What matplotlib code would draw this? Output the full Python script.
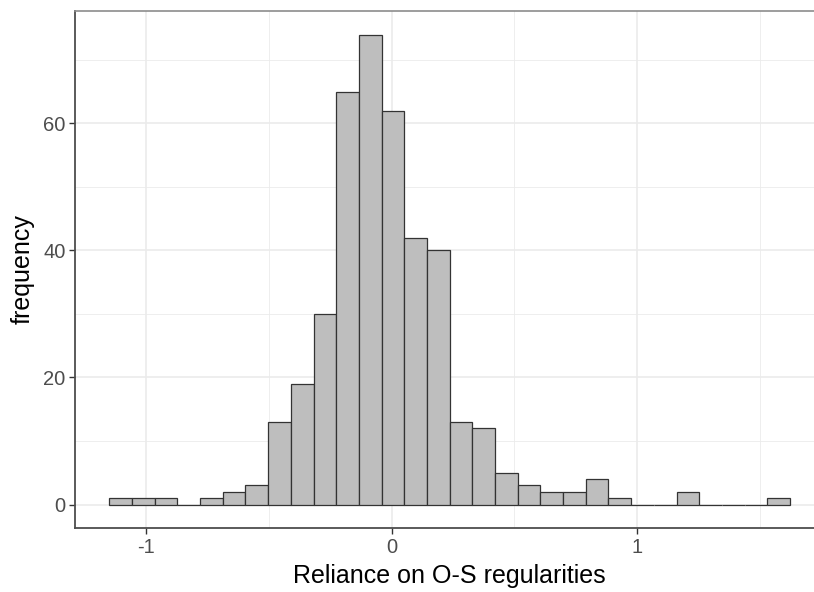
import numpy as np
import matplotlib
matplotlib.use("Agg")
import matplotlib.pyplot as plt
from matplotlib.ticker import FixedLocator

plt.rcParams['font.family'] = ['Liberation Sans', 'DejaVu Sans']

# histogram: 30 bins
bin_start = -1.150
bin_width = 0.0924
counts = [1, 1, 1, 0, 1, 2, 3, 13, 19, 30, 65, 74, 62, 42, 40,
          13, 12, 5, 3, 2, 2, 4, 1, 0, 0, 2, 0, 0, 0, 1]
x_ticks = [-1, 0, 1]
x_tick_labels = ['-1', '0', '1']
y_ticks = [0, 20, 40, 60]

edges = bin_start + bin_width * np.arange(len(counts) + 1)
lefts = edges[:-1]

fig = plt.figure(figsize=(8.14, 5.92), dpi=100)
ax = fig.add_axes([75.3 / 814, 1 - 528 / 592, (824 - 75.3) / 814, (528 - 11) / 592])

ax.bar(lefts, counts, width=bin_width, align='edge', color='#BEBEBE',
       edgecolor='#333333', linewidth=0.9, zorder=3)

span = edges[-1] - edges[0]
ax.set_xlim(edges[0] - 0.05 * span, edges[-1] + 0.05 * span)
ymax = max(counts)
ax.set_ylim(-0.05 * ymax, ymax * 1.05)

ax.xaxis.set_major_locator(FixedLocator(x_ticks))
ax.set_xticklabels(x_tick_labels)
ax.xaxis.set_minor_locator(FixedLocator([-0.5, 0.5, 1.5]))
ax.yaxis.set_major_locator(FixedLocator(y_ticks))
ax.yaxis.set_minor_locator(FixedLocator([10, 30, 50, 70]))

ax.grid(which='major', color='#EBEBEB', linewidth=1.2, zorder=0)
ax.grid(which='minor', color='#EBEBEB', linewidth=0.6, zorder=0)
ax.set_axisbelow(True)

ax.tick_params(which='major', length=4, width=1.0, color='#333333',
               labelsize=14.5, labelcolor='#4D4D4D', pad=3)
ax.tick_params(which='minor', length=0)

for s in ['top', 'right']:
    ax.spines[s].set_color('#8C8C8C')
    ax.spines[s].set_linewidth(1.2)
for s in ['left', 'bottom']:
    ax.spines[s].set_color('#4D4D4D')
    ax.spines[s].set_linewidth(1.3)

ax.set_xlabel('Reliance on O-S regularities', fontsize=18, labelpad=5)
ax.set_ylabel('frequency', fontsize=18, labelpad=6)

fig.savefig('out.png', dpi=100)
